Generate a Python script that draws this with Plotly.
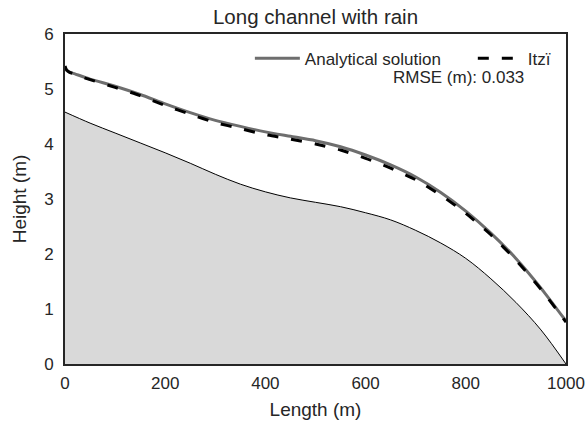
import plotly.graph_objects as go

# channel bed profile (m)
bed_x = [0, 50, 100, 150, 200, 250, 300, 350, 400, 450, 500, 550, 600,
         650, 700, 750, 800, 850, 900, 950, 1000]
bed_z = [4.58, 4.38, 4.20, 4.02, 3.84, 3.65, 3.45, 3.27, 3.13, 3.02, 2.94,
         2.86, 2.75, 2.62, 2.43, 2.20, 1.92, 1.55, 1.12, 0.62, 0.0]

# water surface (m)
wse_x = [0, 3, 8, 15, 50, 100, 150, 200, 250, 300, 350, 400, 450, 500,
         550, 600, 650, 700, 750, 800, 850, 900, 950, 1000]
analytical = [5.40, 5.34, 5.31, 5.29, 5.18, 5.05, 4.90, 4.73, 4.57, 4.43,
              4.32, 4.22, 4.14, 4.06, 3.95, 3.80, 3.62, 3.40, 3.12, 2.78,
              2.38, 1.92, 1.38, 0.78]
itzi = [5.42, 5.35, 5.31, 5.28, 5.17, 5.03, 4.88, 4.70, 4.54, 4.39,
        4.28, 4.17, 4.09, 4.00, 3.89, 3.74, 3.56, 3.35, 3.07, 2.74,
        2.35, 1.89, 1.36, 0.76]

rmse_text = "RMSE (m): 0.033"

FONT = "Liberation Sans, Arial, sans-serif"
DARK = "#262626"

fig = go.Figure()

fig.add_trace(go.Scatter(
    x=bed_x, y=bed_z, mode="lines", fill="tozeroy",
    fillcolor="#d9d9d9", line=dict(color="black", width=1, shape="spline"),
    showlegend=False, hoverinfo="skip"
))
fig.add_trace(go.Scatter(
    x=wse_x, y=analytical, mode="lines", name="Analytical solution",
    line=dict(color="#6e6e6e", width=3, shape="spline", smoothing=0.6),
    legend="legend"
))
fig.add_trace(go.Scatter(
    x=wse_x, y=itzi, mode="lines", name="Itzï",
    line=dict(color="black", width=3, dash="11px,13px", shape="spline", smoothing=0.6),
    legend="legend2"
))

fig.add_annotation(
    text=rmse_text, xref="paper", yref="paper", x=0.785, y=0.867,
    xanchor="center", yanchor="middle",
    showarrow=False, font=dict(size=17, color=DARK, family=FONT)
)

axis_common = dict(
    showgrid=False, zeroline=False, ticks="", mirror=True, automargin=False,
    showline=True, linecolor=DARK, linewidth=2,
    tickfont=dict(size=17, color=DARK, family=FONT),
    title_font=dict(size=19, color=DARK, family=FONT),
)

fig.update_xaxes(range=[0, 1000], tickvals=[0, 200, 400, 600, 800, 1000],
                 title_text="Length (m)", ticklabelstandoff=3, title_standoff=10,
                 **axis_common)
fig.update_yaxes(range=[0, 6], tickvals=[0, 1, 2, 3, 4, 5, 6],
                 title_text="Height (m)", ticklabelstandoff=6, title_standoff=12,
                 **axis_common)

legend_common = dict(
    orientation="h", yanchor="top", y=0.98, xanchor="left",
    bgcolor="rgba(0,0,0,0)", font=dict(size=17, color=DARK, family=FONT),
    itemwidth=45,
)

fig.update_layout(
    width=587, height=424,
    margin=dict(l=65, r=21, t=34, b=60),
    plot_bgcolor="white", paper_bgcolor="white",
    title=dict(text="Long channel with rain", x=0.5375, xanchor="center",
               y=0.96, yanchor="middle",
               font=dict(size=20.5, color=DARK, family=FONT)),
    legend=dict(x=0.369, **legend_common),
    legend2=dict(x=0.814, **legend_common),
    font=dict(family=FONT, color=DARK),
)

fig.write_html("out.html", config={"displayModeBar": False},
               post_script="document.body.style.margin='0';")
